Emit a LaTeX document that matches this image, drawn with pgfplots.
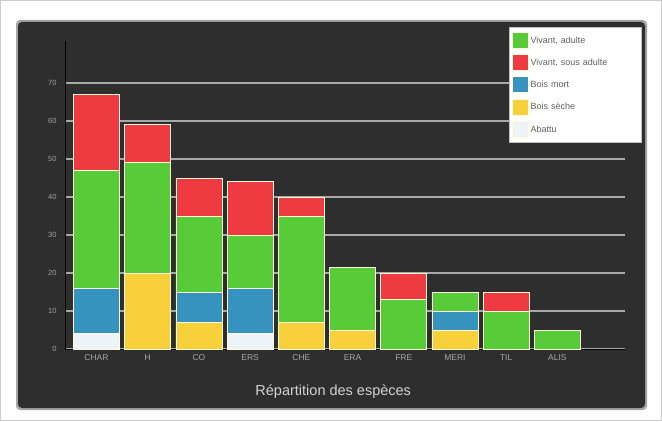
\documentclass[border=0pt]{standalone}
\usepackage{fontspec}
\setmainfont{Liberation Sans}
\usepackage{pgfplots}
\pgfplotsset{compat=1.18}

\definecolor{panel}{HTML}{2E2E2E}
\definecolor{gridc}{HTML}{A8A8A8}
\definecolor{vert}{HTML}{58CC38}
\definecolor{rouge}{HTML}{EE3A40}
\definecolor{bleu}{HTML}{3692BE}
\definecolor{jaune}{HTML}{F7D03A}
\definecolor{blanc}{HTML}{EEF3F7}

\begin{document}
\begin{tikzpicture}[x=1pt,y=1pt]
% fond
\fill[white] (0,0) rectangle (662,421);
\draw[gray!40] (0.5,0.5) rectangle (661.5,420.5);
\fill[black!35, rounded corners=4pt] (16,11) rectangle (647,401);
\fill[panel, rounded corners=4pt] (18,13) rectangle (645,399);

\begin{axis}[
    at={(65pt,72pt)}, anchor=south west,
    scale only axis,
    width=560pt, height=307.8pt,
    ybar stacked,
    bar width=0.9,
    xmin=-0.615, xmax=10.32,
    ymin=0, ymax=81,
    xtick={0,...,9},
    xticklabels={CHAR,H,CO,ERS,CHE,ERA,FRE,MERI,TIL,ALIS},
    ytick={0,10,...,70},
    major tick length=0pt,
    ymajorgrids=true,
    grid style={gridc, line width=1.6pt},
    axis x line*=bottom,
    axis y line*=left,
    axis line style={black, line width=1pt, -},
    x tick label style={font=\fontsize{8.5}{9}\selectfont, text=gray!70, yshift=-2pt},
    y tick label style={font=\fontsize{7.5}{8}\selectfont, text=gray!75, xshift=-5pt},
    /pgf/number format/assume math mode=true,
    xlabel={Répartition des espèces},
    xlabel style={font=\fontsize{14.5}{16}\selectfont, text=gray!35,
        at={(axis description cs:0.479,0)}, anchor=center, yshift=-43pt},
    every axis plot/.append style={draw=white!85!yellow, line width=0.7pt},
    legend style={at={(rel axis cs:1.03,1.046)}, anchor=north east,
        fill=white, draw=gray!50, font=\fontsize{9}{10.5}\selectfont,
        text=gray!75!black, row sep=5.4pt, inner ysep=5pt, inner xsep=3pt,
        /tikz/column 2/.style={nodes={text width=106pt}}},
    legend cell align=left,
    legend image code/.code={\fill[#1] (0pt,-7.5pt) rectangle (16pt,8.5pt);},
]

% ordre d'empilement : abattu, jaune, bleu, vert, rouge
\addplot[forget plot, fill=blanc] coordinates {
    (0,4)(1,0)(2,0)(3,4)(4,0)(5,0)(6,0)(7,0)(8,0)(9,0)};
\addplot[forget plot, fill=jaune] coordinates {
    (0,0)(1,20)(2,7)(3,0)(4,7)(5,5)(6,0)(7,5)(8,0)(9,0)};
\addplot[forget plot, fill=bleu] coordinates {
    (0,12)(1,0)(2,8)(3,12)(4,0)(5,0)(6,0)(7,5)(8,0)(9,0)};
\addplot[forget plot, fill=vert] coordinates {
    (0,31)(1,29)(2,20)(3,14)(4,28)(5,16.5)(6,13)(7,5)(8,10)(9,5)};
\addplot[forget plot, fill=rouge] coordinates {
    (0,20)(1,10)(2,10)(3,14)(4,5)(5,0)(6,7)(7,0)(8,5)(9,0)};

\addlegendimage{fill=vert}
\addlegendentry{Vivant, adulte}
\addlegendimage{fill=rouge}
\addlegendentry{Vivant, sous adulte}
\addlegendimage{fill=bleu}
\addlegendentry{Bois mort}
\addlegendimage{fill=jaune}
\addlegendentry{Bois sèche}
\addlegendimage{fill=blanc}
\addlegendentry{Abattu}
\end{axis}
\end{tikzpicture}
\end{document}
